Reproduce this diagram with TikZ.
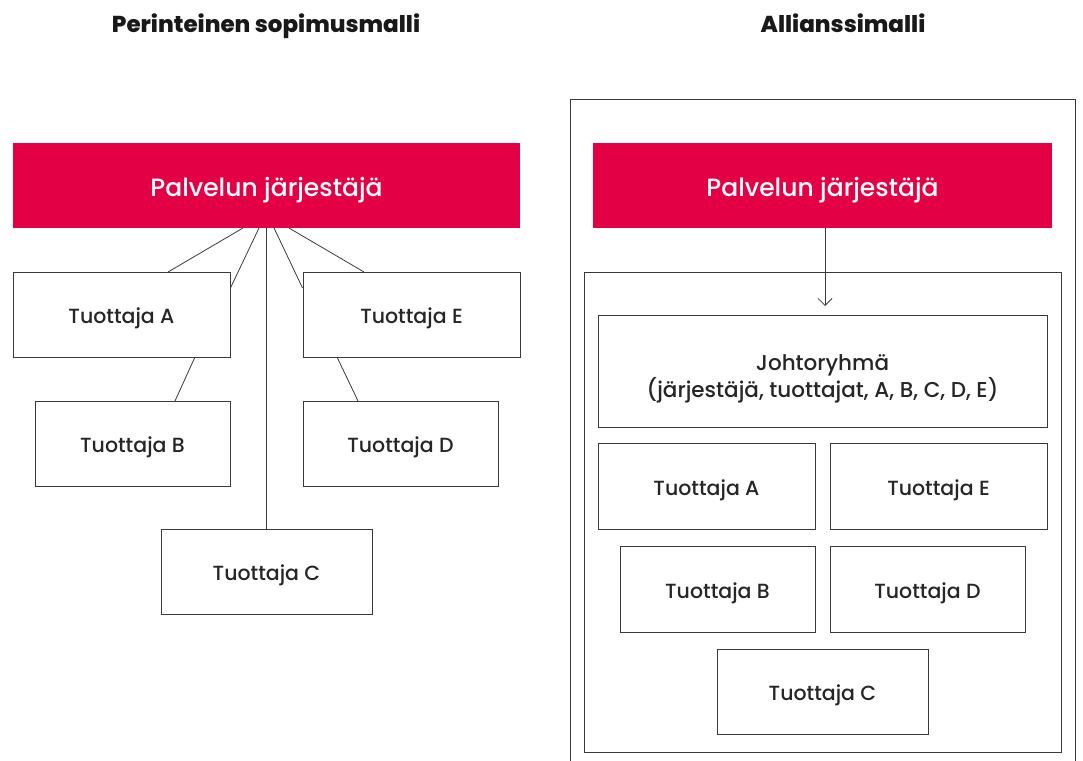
\documentclass[tikz,border=0pt]{standalone}
\usepackage{fontspec}
\setmainfont{Poppins}[UprightFont=* Medium]
\newfontfamily\headfont{Poppins}[UprightFont=* ExtraBold]
\usetikzlibrary{arrows.meta}
\definecolor{brandred}{HTML}{E40044}
\definecolor{edge}{HTML}{3A3A3A}
\begin{document}
\begin{tikzpicture}[x=1pt,y=-1pt,
  box/.style={draw=edge,line width=0.9pt,fill=white,inner sep=0pt,text=black!85,
    font=\fontsize{20.5}{27}\selectfont,text height=18.4pt,text depth=0pt},
  redbox/.style={fill=brandred,inner sep=0pt,text=white,
    font=\fontsize{25}{30}\selectfont,text height=21.5pt,text depth=0pt},
  frame/.style={draw=edge,line width=0.9pt},
  link/.style={draw=edge,line width=0.8pt},
  title/.style={font=\headfont\fontsize{23}{27}\selectfont,text=black!90,text height=18pt,text depth=0pt}]
\useasboundingbox (0,0) rectangle (1083,760);

% column titles
\node[title] (t1) at (266,24) {Perinteinen sopimusmalli};
\node[title] (t2) at (843,24) {Allianssimalli};

% ---- traditional contract model ----
\node[redbox,minimum width=507pt,minimum height=85pt] (pL) at (266.5,185.5) {Palvelun järjestäjä};
\node[box,minimum width=217pt,minimum height=85pt] (aL) at (121.5,314.5) {Tuottaja A};
\node[box,minimum width=217pt,minimum height=85pt] (eL) at (411.5,314.5) {Tuottaja E};
\node[box,minimum width=195pt,minimum height=85pt] (bL) at (132.5,443.5) {Tuottaja B};
\node[box,minimum width=195pt,minimum height=85pt] (dL) at (400.5,443.5) {Tuottaja D};
\node[box,minimum width=211pt,minimum height=85pt] (cL) at (266.5,571.5) {Tuottaja C};

\coordinate (s1) at (243,228);
\coordinate (s2) at (259,228);
\coordinate (s3) at (266,228);
\coordinate (s4) at (274,228);
\coordinate (s5) at (289,228);
\draw[link] (s1) -- (168,272);
\draw[link] (s2) -- (aL.east |- 0,288);
\draw[link] (s3) -- (cL.north -| s3);
\draw[link] (s4) -- (eL.west |- 0,288);
\draw[link] (s5) -- (364,272);
\draw[link] (195,357) -- (175,401);
\draw[link] (337,357) -- (358,401);

% ---- alliance model ----
\draw[frame] (570,770) -- (570,99) -- (1075,99) -- (1075,770);
\node[redbox,minimum width=459pt,minimum height=85pt] (pR) at (822.5,185.5) {Palvelun järjestäjä};
\draw[frame] (584,272) rectangle (1061,752);
\node[draw=edge,line width=0.9pt,minimum width=449pt,minimum height=112pt] (jr) at (822.5,371) {};
\node[align=center,inner sep=0pt,text=black!85,font=\fontsize{21.5}{27}\selectfont] (jrt) at (822.5,378.5)
  {Johtoryhmä\\(järjestäjä, tuottajat, A, B, C, D, E)};
\draw[link,-{Straight Barb[length=7pt,width=14pt]}] (pR.south -| 825,0) -- (825,306);
\node[box,minimum width=217pt,minimum height=86pt] (aR) at (706.5,486) {Tuottaja A};
\node[box,minimum width=217pt,minimum height=86pt] (eR) at (938.5,486) {Tuottaja E};
\node[box,minimum width=195pt,minimum height=86pt] (bR) at (717.5,589) {Tuottaja B};
\node[box,minimum width=195pt,minimum height=86pt] (dR) at (927.5,589) {Tuottaja D};
\node[box,minimum width=211pt,minimum height=85pt] (cR) at (822.5,691.5) {Tuottaja C};
\end{tikzpicture}
\end{document}
